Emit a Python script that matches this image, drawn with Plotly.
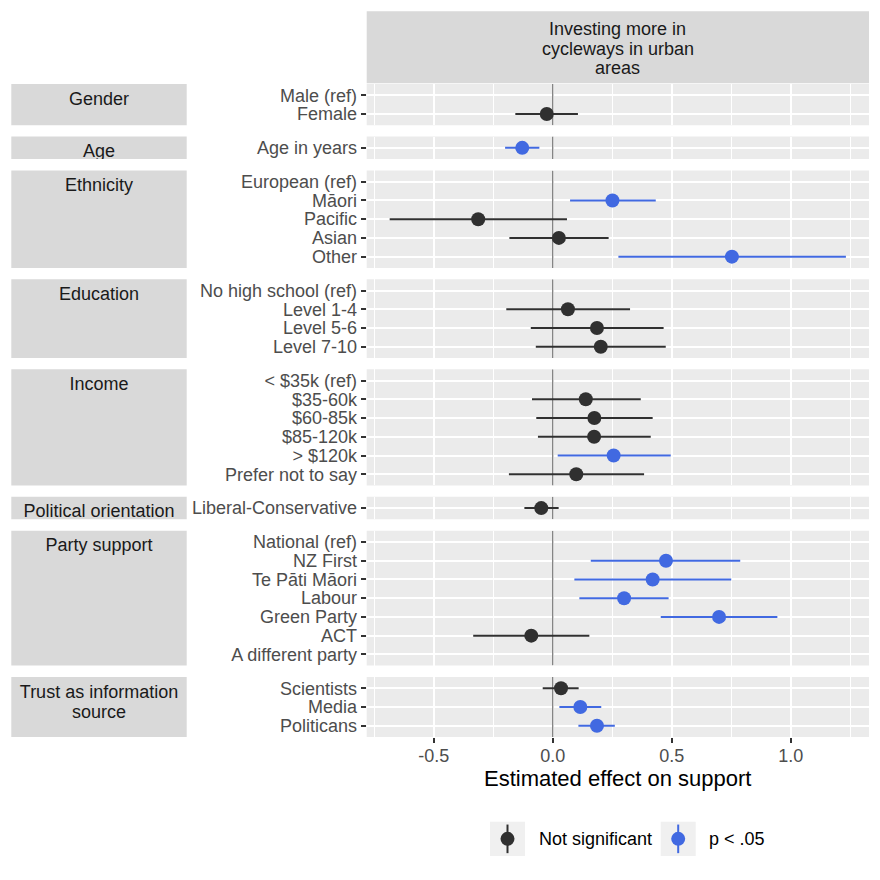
import plotly.graph_objects as go

# ---------------- data ----------------
group_titles = ["Gender", "Age", "Ethnicity", "Education", "Income",
                "Political orientation", "Party support",
                "Trust as information<br>source"]

gender_labels = ["Male (ref)", "Female"]
gender_est = [None, -0.025]
gender_lo = [None, -0.157]
gender_hi = [None, 0.106]
gender_sig = [None, False]

age_labels = ["Age in years"]
age_est = [-0.128]
age_lo = [-0.200]
age_hi = [-0.056]
age_sig = [True]

eth_labels = ["European (ref)", "Māori", "Pacific", "Asian", "Other"]
eth_est = [None, 0.251, -0.313, 0.026, 0.753]
eth_lo = [None, 0.073, -0.685, -0.182, 0.276]
eth_hi = [None, 0.433, 0.060, 0.235, 1.232]
eth_sig = [None, True, False, False, True]

edu_labels = ["No high school (ref)", "Level 1-4", "Level 5-6", "Level 7-10"]
edu_est = [None, 0.064, 0.186, 0.202]
edu_lo = [None, -0.195, -0.092, -0.071]
edu_hi = [None, 0.325, 0.466, 0.475]
edu_sig = [None, False, False, False]

inc_labels = ["< $35k (ref)", "$35-60k", "$60-85k", "$85-120k", "> $120k", "Prefer not to say"]
inc_est = [None, 0.139, 0.175, 0.174, 0.256, 0.099]
inc_lo = [None, -0.087, -0.069, -0.062, 0.021, -0.184]
inc_hi = [None, 0.370, 0.420, 0.412, 0.496, 0.384]
inc_sig = [None, False, False, False, True, False]

pol_labels = ["Liberal-Conservative"]
pol_est = [-0.048]
pol_lo = [-0.119]
pol_hi = [0.025]
pol_sig = [False]

party_labels = ["National (ref)", "NZ First", "Te Pāti Māori", "Labour", "Green Party", "ACT", "A different party"]
party_est = [None, 0.476, 0.420, 0.300, 0.699, -0.090, None]
party_lo = [None, 0.160, 0.091, 0.112, 0.454, -0.334, None]
party_hi = [None, 0.788, 0.750, 0.487, 0.944, 0.154, None]
party_sig = [None, True, True, True, True, False, None]

trust_labels = ["Scientists", "Media", "Politicans"]
trust_est = [0.035, 0.116, 0.186]
trust_lo = [-0.042, 0.028, 0.108]
trust_hi = [0.109, 0.204, 0.261]
trust_sig = [False, True, True]

facet_title = ["Investing more in", "cycleways in urban", "areas"]
x_title = "Estimated effect on support"
x_tickvals = [-0.5, 0.0, 0.5, 1.0]
x_ticktext = ["-0.5", "0.0", "0.5", "1.0"]
x_minor = [-0.75, -0.25, 0.25, 0.75, 1.25]
x_range = [-0.7815, 1.329]
legend_names = ["Not significant", "p < .05"]

groups = [
    (gender_labels, gender_est, gender_lo, gender_hi, gender_sig),
    (age_labels, age_est, age_lo, age_hi, age_sig),
    (eth_labels, eth_est, eth_lo, eth_hi, eth_sig),
    (edu_labels, edu_est, edu_lo, edu_hi, edu_sig),
    (inc_labels, inc_est, inc_lo, inc_hi, inc_sig),
    (pol_labels, pol_est, pol_lo, pol_hi, pol_sig),
    (party_labels, party_est, party_lo, party_hi, party_sig),
    (trust_labels, trust_est, trust_lo, trust_hi, trust_sig),
]

# ---------------- styling / layout ----------------
W = H = 880
FONT = "Liberation Sans, Arial, sans-serif"
DARK = "#303030"
BLUE = "#4169E1"
PANEL_BG = "#EBEBEB"
STRIP_BG = "#D9D9D9"
KEY_BG = "#F0F0F0"
FS = 18

unit = 18.73
gap = 11.4
top0 = 84.0
xl, xr = 366.7, 869.0
sl, sr = 11.3, 186.7


def px(x):
    return x / W


def py(y):
    return 1 - y / H


fig = go.Figure()
layout = dict(
    width=W, height=H, margin=dict(l=0, r=0, t=0, b=0),
    paper_bgcolor="white", plot_bgcolor="rgba(0,0,0,0)",
    showlegend=False, template="none",
    font=dict(family=FONT, size=FS, color="#4D4D4D"),
)
shapes = []
annotations = []

cur = top0
ng = len(groups)
for k, (labels, est, lo, hi, sig) in enumerate(groups, start=1):
    n = len(labels)
    h = (n - 1 + 1.2) * unit
    top, bot = cur, cur + h
    cur = bot + gap
    xa, ya = f"x{k}", f"y{k}"
    sxa, sya = f"x{k + ng}", f"y{k + ng}"
    last = (k == ng)

    xax = dict(
        domain=[px(xl), px(xr)], anchor=ya, range=x_range,
        tickmode="array", tickvals=x_tickvals, ticktext=x_ticktext,
        showgrid=True, gridcolor="white", gridwidth=2,
        minor=dict(tickvals=x_minor, showgrid=True, gridcolor="white", gridwidth=1, ticks=""),
        zeroline=False, showline=False,
        showticklabels=last, ticks="outside" if last else "",
        ticklen=5, tickwidth=1.5, tickcolor="#333333",
        tickfont=dict(family=FONT, size=FS, color="#4D4D4D"),
        automargin=False, fixedrange=True,
    )
    if last:
        xax["ticklabelstandoff"] = -3
    layout[f"xaxis{k}"] = xax
    layout[f"yaxis{k}"] = dict(
        domain=[py(bot), py(top)], anchor=xa, range=[n - 0.4, -0.6],
        tickmode="array", tickvals=list(range(n)), ticktext=labels,
        showgrid=True, gridcolor="white", gridwidth=2,
        zeroline=False, showline=False,
        ticks="outside", ticklen=5, tickwidth=1.5, tickcolor="#333333",
        tickfont=dict(family=FONT, size=FS, color="#4D4D4D"),
        automargin=False, fixedrange=True,
    )
    # strip subplot (for clipped strip text)
    layout[f"xaxis{k + ng}"] = dict(domain=[px(sl), px(sr)], anchor=sya, range=[0, 1],
                                    visible=False, fixedrange=True)
    layout[f"yaxis{k + ng}"] = dict(domain=[py(bot), py(top)], anchor=sxa, range=[h, 0],
                                    visible=False, fixedrange=True)

    # backgrounds
    shapes.append(dict(type="rect", xref="paper", yref="paper",
                       x0=px(xl), x1=px(xr), y0=py(bot), y1=py(top),
                       fillcolor=PANEL_BG, line=dict(width=0), layer="below"))
    shapes.append(dict(type="rect", xref="paper", yref="paper",
                       x0=px(sl), x1=px(sr), y0=py(bot), y1=py(top),
                       fillcolor=STRIP_BG, line=dict(width=0), layer="below"))

    # zero reference line
    fig.add_trace(go.Scatter(x=[0, 0], y=[-0.6, n - 0.4], mode="lines",
                             line=dict(color="#7F7F7F", width=1.3),
                             xaxis=xa, yaxis=ya, hoverinfo="skip", showlegend=False))

    # point ranges
    for flag, col in ((False, DARK), (True, BLUE)):
        idx = [i for i in range(n) if est[i] is not None and sig[i] == flag]
        if not idx:
            continue
        fig.add_trace(go.Scatter(
            x=[est[i] for i in idx], y=idx, mode="markers",
            marker=dict(size=14, color=col, line=dict(width=0)),
            error_x=dict(type="data", symmetric=False,
                         array=[hi[i] - est[i] for i in idx],
                         arrayminus=[est[i] - lo[i] for i in idx],
                         color=col, thickness=2, width=0),
            xaxis=xa, yaxis=ya, showlegend=False,
            name=legend_names[int(flag)],
        ))

    # strip text
    lines = group_titles[k - 1].split("<br>")
    fig.add_trace(go.Scatter(
        x=[0.5] * len(lines), y=[16 + 20 * j for j in range(len(lines))],
        text=lines, mode="text", textposition="middle center",
        textfont=dict(family=FONT, size=FS, color="#1A1A1A"),
        cliponaxis=True, xaxis=sxa, yaxis=sya, hoverinfo="skip", showlegend=False,
    ))

# column facet strip
shapes.append(dict(type="rect", xref="paper", yref="paper",
                   x0=px(xl), x1=px(xr), y0=py(83.3), y1=py(11.3),
                   fillcolor=STRIP_BG, line=dict(width=0), layer="below"))
for j, t in enumerate(facet_title):
    annotations.append(dict(text=t, x=px((xl + xr) / 2), y=py(29.3 + 19.2 * j),
                            xref="paper", yref="paper", showarrow=False,
                            xanchor="center", yanchor="middle",
                            font=dict(family=FONT, size=FS, color="#1A1A1A")))

# x axis title
annotations.append(dict(text=x_title, x=px((xl + xr) / 2), y=py(778), xref="paper", yref="paper",
                        showarrow=False, xanchor="center", yanchor="middle",
                        font=dict(family=FONT, size=22, color="black")))

# legend (manual, ggplot style keys)
key_x = [490.0, 660.7]
key_y0, key_y1 = 821.7, 856.0
for j, col in enumerate([DARK, BLUE]):
    x0 = key_x[j]
    cx = x0 + 17.5
    cy = (key_y0 + key_y1) / 2
    shapes.append(dict(type="rect", xref="paper", yref="paper",
                       x0=px(x0), x1=px(x0 + 35), y0=py(key_y1), y1=py(key_y0),
                       fillcolor=KEY_BG, line=dict(width=0)))
    shapes.append(dict(type="line", xref="paper", yref="paper",
                       x0=px(cx), x1=px(cx), y0=py(cy + 14.3), y1=py(cy - 14.3),
                       line=dict(color=col, width=2)))
    shapes.append(dict(type="circle", xref="paper", yref="paper",
                       x0=px(cx - 7), x1=px(cx + 7), y0=py(cy + 7), y1=py(cy - 7),
                       fillcolor=col, line=dict(width=0)))
    annotations.append(dict(text=legend_names[j], x=px(x0 + 46.5), y=py(cy),
                            xref="paper", yref="paper", showarrow=False,
                            xanchor="left", yanchor="middle",
                            font=dict(family=FONT, size=FS, color="black")))

layout["shapes"] = shapes
layout["annotations"] = annotations
fig.update_layout(**layout)
fig.write_html("out.html")
